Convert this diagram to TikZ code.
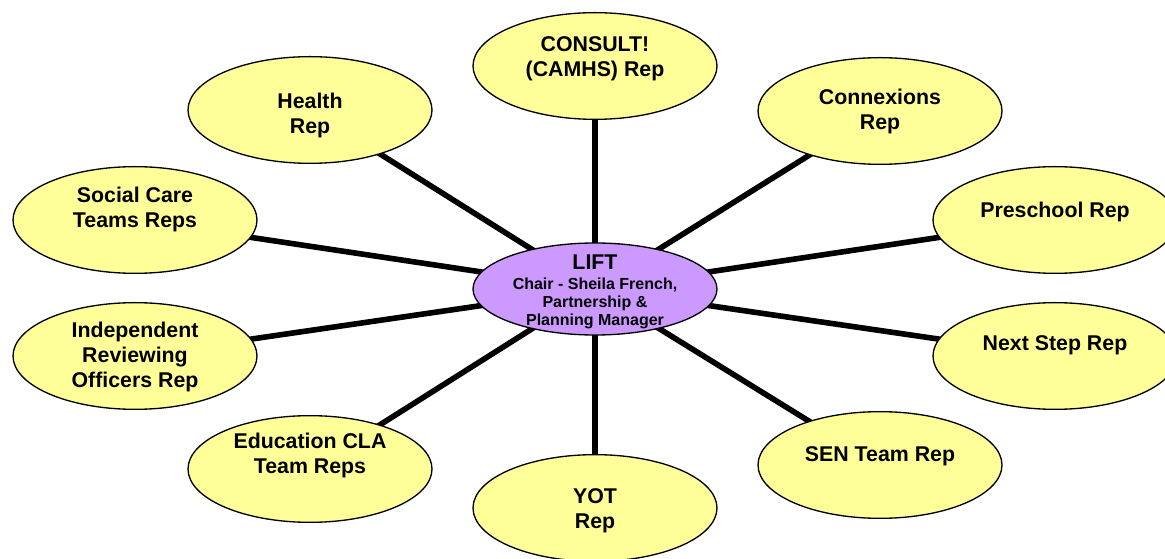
\documentclass[tikz,border=0pt]{standalone}
\usepackage{fontspec}
\setmainfont{Liberation Sans}
\usetikzlibrary{shapes.geometric,backgrounds}

\definecolor{repcolor}{RGB}{255,255,153}
\definecolor{liftcolor}{RGB}{204,153,255}

\tikzset{
  rep/.style={ellipse,draw,line width=1pt,fill=repcolor,minimum width=183pt,minimum height=80pt,inner sep=0pt},
  reptext/.style={align=center,font=\fontsize{16}{18.75}\selectfont\bfseries},
  link/.style={line width=4.2pt}
}

\begin{document}
\begin{tikzpicture}[x=0.75pt,y=-0.75pt]
  \useasboundingbox (0,0) rectangle (1165,559);
  % LIFT (centre)
  \node at(595,289)[rep,fill=liftcolor,minimum height=69pt](lift){};
  \node at(595,292)[align=center,font=\fontsize{12}{13.5}\selectfont\bfseries](lifttext){{\fontsize{16}{18}\selectfont LIFT}\\[1.5pt]Chair - Sheila French,\\Partnership \&\\Planning Manager};
  % Top row
  \node at(595,66)[rep](consult){};
  \node at(595,59)[reptext](consulttext){CONSULT!\\(CAMHS) Rep};
  \node at(310,110)[rep](health){};
  \node at(310,115)[reptext](healthtext){Health\\Rep};
  \node at(880,111)[rep](connexions){};
  \node at(880,111)[reptext](connexionstext){Connexions\\Rep};
  % Left side
  \node at(135,220)[rep](social){};
  \node at(135,209)[reptext](socialtext){Social Care\\Teams Reps};
  \node at(135,356)[rep](independent){};
  \node at(135,357)[reptext](independenttext){Independent\\Reviewing\\Officers Rep};
  % Right side
  \node at(1055,220)[rep](preschool){};
  \node at(1055,212)[reptext](preschooltext){Preschool Rep};
  \node at(1055,356)[rep](nextstep){};
  \node at(1055,345)[reptext](nextsteptext){Next Step Rep};
  % Bottom row
  \node at(310,469)[rep](education){};
  \node at(310,455)[reptext](educationtext){Education CLA\\Team Reps};
  \node at(880,465)[rep](sen){};
  \node at(880,456)[reptext](sentext){SEN Team Rep};
  \node at(595,508)[rep](yot){};
  \node at(595,511)[reptext](yottext){YOT\\Rep};
  % Links
  \begin{scope}[on background layer]
    \foreach \n in {consult,health,connexions,social,independent,preschool,nextstep,education,sen,yot}
      \draw[link](lift.center) -- (\n.center);
  \end{scope}
\end{tikzpicture}
\end{document}
